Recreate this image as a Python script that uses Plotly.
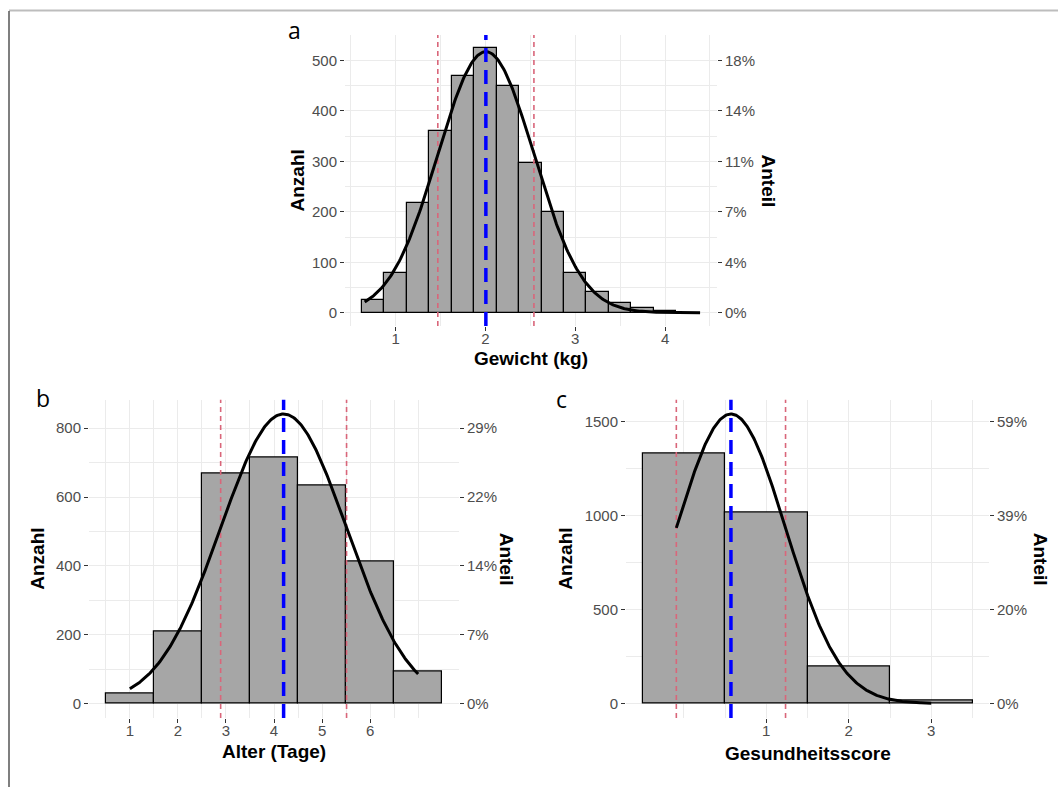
import numpy as np
import plotly.graph_objects as go

W, H = 1058, 787

# ---------------- data ----------------
# Panel a: Gewicht (kg)
gewicht_bins = [0.75, 1.0, 1.25, 1.5, 1.75, 2.0, 2.25, 2.5, 2.75, 3.0, 3.25, 3.5, 3.75, 4.0]
gewicht_counts = [25, 79, 218, 361, 469, 524, 449, 297, 199, 78, 42, 20, 9, 4]
gewicht_binwidth = 0.25
gewicht_mean = 2.005
gewicht_sd = 0.535
gewicht_curve_span = [0.656, 4.39]
gewicht_xticks = [1, 2, 3, 4]
gewicht_yticks = [0, 100, 200, 300, 400, 500]

# Panel b: Alter (Tage)
alter_bins = [1, 2, 3, 4, 5, 6, 7]
alter_counts = [28, 210, 668, 716, 634, 414, 93]
alter_binwidth = 1.0
alter_mean = 4.2
alter_sd = 1.31
alter_curve_span = [1.0, 7.0]
alter_xticks = [1, 2, 3, 4, 5, 6]
alter_yticks = [0, 200, 400, 600, 800]

# Panel c: Gesundheitsscore
score_bins = [0, 1, 2, 3]
score_counts = [1328, 1015, 195, 18]
score_binwidth = 1.0
score_mean = 0.572
score_sd = 0.662
score_curve_span = [-0.09, 3.0]
score_xticks = [1, 2, 3]
score_yticks = [0, 500, 1000, 1500]

# ---------------- layout constants (pixel boxes) ----------------
panels = [
    dict(key="a", bins=gewicht_bins, counts=gewicht_counts, bw=gewicht_binwidth,
         mean=gewicht_mean, sd=gewicht_sd, span=gewicht_curve_span,
         xticks=gewicht_xticks, yticks=gewicht_yticks, xtitle="Gewicht (kg)",
         box=(345, 717, 35, 326),
         ytitle_x=297, yright_x=768, xtitle_y=358, letter=(294, 30)),
    dict(key="b", bins=alter_bins, counts=alter_counts, bw=alter_binwidth,
         mean=alter_mean, sd=alter_sd, span=alter_curve_span,
         xticks=alter_xticks, yticks=alter_yticks, xtitle="Alter (Tage)",
         box=(89, 459, 399.5, 718),
         ytitle_x=38, yright_x=506, xtitle_y=751, letter=(43, 398)),
    dict(key="c", bins=score_bins, counts=score_counts, bw=score_binwidth,
         mean=score_mean, sd=score_sd, span=score_curve_span,
         xticks=score_xticks, yticks=score_yticks, xtitle="Gesundheitsscore",
         box=(626, 989, 399.5, 718),
         ytitle_x=566, yright_x=1040, xtitle_y=753, letter=(561, 399)),
]

GRID = "#EBEBEB"
TICKC = "#333333"
LABC = "#4D4D4D"
FONT = "Liberation Sans, Arial, sans-serif"
BAR_FILL = "#A6A6A6"
RED = "#D9667A"
BLUE = "#0000FF"

fig = go.Figure()
annotations = []
shapes = []


def minor_breaks(major, lo, hi):
    step = major[1] - major[0]
    ext = [major[0] - step] + list(major) + [major[-1] + step]
    vals = []
    for i in range(len(ext) - 1):
        vals.append(ext[i])
        vals.append((ext[i] + ext[i + 1]) / 2)
    vals.append(ext[-1])
    return [v for v in vals if lo <= v <= hi and v not in major]


def px_x(p):
    return p / W


def px_y(p):
    return 1 - p / H


for i, p in enumerate(panels):
    n = i + 1
    xa = "x" if n == 1 else f"x{n}"
    ya = "y" if n == 1 else f"y{n}"
    yr_name = f"y{n + 3}"
    bins = np.array(p["bins"], dtype=float)
    counts = np.array(p["counts"], dtype=float)
    N = counts.sum()
    bw = p["bw"]

    # normal density curve scaled to counts
    xs = np.linspace(p["span"][0], p["span"][1], 300)
    ys = N * bw * np.exp(-0.5 * ((xs - p["mean"]) / p["sd"]) ** 2) / (p["sd"] * np.sqrt(2 * np.pi))

    # ranges (ggplot-like 5% expansion)
    xlo = min(bins.min() - bw / 2, xs.min())
    xhi = max(bins.max() + bw / 2, xs.max())
    xr = xhi - xlo
    xrange = [xlo - 0.05 * xr, xhi + 0.05 * xr]
    ytop = max(counts.max(), ys.max())
    yrange = [-0.05 * ytop, ytop * 1.05]

    # bars
    fig.add_trace(go.Bar(x=bins, y=counts, width=bw, marker=dict(color=BAR_FILL, line=dict(color="black", width=1.2)),
                         xaxis=xa, yaxis=ya, showlegend=False, hoverinfo="skip"))
    # sd lines
    for xv in [p["mean"] - p["sd"], p["mean"] + p["sd"]]:
        fig.add_trace(go.Scatter(x=[xv, xv], y=yrange, mode="lines",
                                 line=dict(color=RED, width=1.6, dash="5px,4px"),
                                 xaxis=xa, yaxis=ya, showlegend=False, hoverinfo="skip"))
    # curve
    fig.add_trace(go.Scatter(x=xs, y=ys, mode="lines", line=dict(color="black", width=3),
                             xaxis=xa, yaxis=ya, showlegend=False, hoverinfo="skip"))
    # mean line
    fig.add_trace(go.Scatter(x=[p["mean"], p["mean"]], y=yrange, mode="lines",
                             line=dict(color=BLUE, width=3.5, dash="14px,8px"),
                             xaxis=xa, yaxis=ya, showlegend=False, hoverinfo="skip"))
    # invisible trace for right axis
    fig.add_trace(go.Scatter(x=bins, y=counts, mode="markers", marker=dict(opacity=0),
                             xaxis=xa, yaxis=yr_name, showlegend=False, hoverinfo="skip"))

    x0, x1, y0, y1 = p["box"]
    xdom = [px_x(x0), px_x(x1)]
    ydom = [px_y(y1), px_y(y0)]

    axis_common = dict(showline=False, zeroline=False, ticks="outside", ticklen=4, tickwidth=1,
                       tickcolor=TICKC, tickfont=dict(family=FONT, size=15, color=LABC),
                       automargin=False)

    fig.layout["xaxis" if n == 1 else f"xaxis{n}"] = dict(
        domain=xdom, anchor=ya, range=xrange, tickmode="array", tickvals=p["xticks"],
        showgrid=True, gridcolor=GRID, gridwidth=1.1, ticklabelstandoff=-5,
        minor=dict(tickmode="array", tickvals=minor_breaks(p["xticks"], *xrange),
                   showgrid=True, gridcolor=GRID, gridwidth=0.6, ticks=""),
        **axis_common)
    fig.layout["yaxis" if n == 1 else f"yaxis{n}"] = dict(
        domain=ydom, anchor=xa, range=yrange, tickmode="array", tickvals=p["yticks"],
        showgrid=True, gridcolor=GRID, gridwidth=1.1,
        minor=dict(tickmode="array", tickvals=minor_breaks(p["yticks"], *yrange),
                   showgrid=True, gridcolor=GRID, gridwidth=0.6, ticks=""),
        **axis_common)
    fig.layout[f"yaxis{n + 3}"] = dict(
        overlaying=ya, side="right", anchor=xa, range=yrange, tickmode="array",
        tickvals=p["yticks"], ticktext=[f"{int(v / N * 100 + 0.5)}%" for v in p["yticks"]],
        showgrid=False, **axis_common)

    # axis titles
    cy = (y0 + y1) / 2
    annotations.append(dict(x=px_x(p["ytitle_x"]), y=px_y(cy), xref="paper", yref="paper",
                            text="<b>Anzahl</b>", textangle=-90, showarrow=False,
                            font=dict(family=FONT, size=19, color="black"),
                            xanchor="center", yanchor="middle"))
    annotations.append(dict(x=px_x(p["yright_x"]), y=px_y(cy), xref="paper", yref="paper",
                            text="<b>Anteil</b>", textangle=90, showarrow=False,
                            font=dict(family=FONT, size=19, color="black"),
                            xanchor="center", yanchor="middle"))
    annotations.append(dict(x=px_x((x0 + x1) / 2), y=px_y(p["xtitle_y"]), xref="paper", yref="paper",
                            text=f"<b>{p['xtitle']}</b>", showarrow=False,
                            font=dict(family=FONT, size=19, color="black"),
                            xanchor="center", yanchor="middle"))
    annotations.append(dict(x=px_x(p["letter"][0]), y=px_y(p["letter"][1]), xref="paper", yref="paper",
                            text=p["key"], showarrow=False,
                            font=dict(family="Open Sans, sans-serif", size=23, color="black"),
                            xanchor="center", yanchor="middle"))

# frame lines (screenshot border)
shapes.append(dict(type="line", xref="paper", yref="paper", x0=px_x(9), x1=1, y0=px_y(10.5), y1=px_y(10.5),
                   line=dict(color="#BDBDBD", width=2)))
shapes.append(dict(type="line", xref="paper", yref="paper", x0=px_x(9), x1=px_x(9), y0=px_y(11), y1=0,
                   line=dict(color="#555555", width=1.5)))

fig.update_layout(width=W, height=H, margin=dict(l=0, r=0, t=0, b=0, autoexpand=False),
                  paper_bgcolor="white", plot_bgcolor="white", bargap=0,
                  annotations=annotations, shapes=shapes, showlegend=False)

fig.write_html("out.html", config={"displayModeBar": False},
               post_script="document.body.style.margin='0';")
